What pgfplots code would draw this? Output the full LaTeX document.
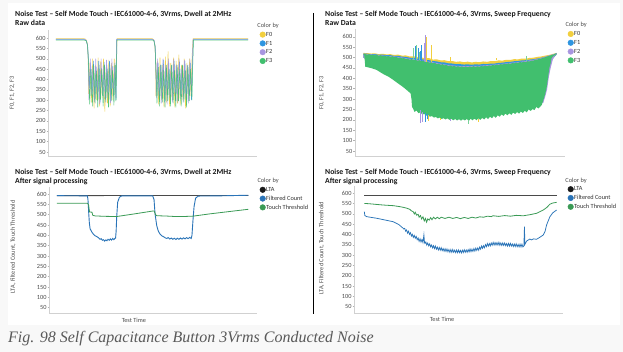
\documentclass[border=0pt]{standalone}
\usepackage{fontspec}
\setmainfont{Carlito}
\newfontfamily\capfont{Liberation Serif}
\usepackage{pgfplots}
\pgfplotsset{compat=1.18}
\definecolor{cF0}{HTML}{F2CF3E}
\definecolor{cF1}{HTML}{2E95E0}
\definecolor{cF2}{HTML}{A896E0}
\definecolor{cF3}{HTML}{41BF6E}
\definecolor{cLTA}{HTML}{4A4A4A}
\definecolor{cFC}{HTML}{2A74B8}
\definecolor{cTT}{HTML}{3A9A55}
\definecolor{bgout}{HTML}{F8F8F8}
\newcommand{\smallf}{\fontsize{6.3}{7}\selectfont}
\newcommand{\titlef}{\fontsize{7.75}{9}\selectfont\bfseries}
\pgfplotsset{
  panel/.style={
    scale only axis, anchor=south west,
    axis x line*=bottom, axis y line*=left,
    axis line style={draw=black!18, line width=0.4pt},
    ytick={50,100,...,600}, xtick=\empty,
    tick style={draw=black!30, line width=0.4pt},
    major tick length=1.8pt, tick align=outside,
    yticklabel style={font=\smallf, text=black!70, inner sep=0.8pt},
    /pgf/number format/assume math mode=true,
    ylabel style={font=\smallf, text=black!70},
    xlabel style={font=\smallf, text=black!70},
    legend style={draw=none, fill=none, font=\smallf, text=black!80, inner sep=0pt,
      row sep=1.9pt, nodes={inner sep=0.5pt, text height=4.6pt, text depth=1.3pt}},
    legend cell align=left,
    legend image code/.code={\fill[##1] (3pt,0pt) circle (2.8pt);},
  }
}
\begin{document}
\begin{tikzpicture}
\fill[bgout] (0pt,0pt) rectangle (623pt,-352pt);
\useasboundingbox (0pt,0pt) rectangle (623pt,-352pt);
\fill[white] (8pt,-2.7pt) rectangle (620pt,-325pt);

% ---------------- Top left: dwell raw ----------------
\begin{axis}[panel, at={(48.3pt,-156.7pt)}, width=208.4pt, height=126.7pt,
  xmin=-4.0, xmax=104.4, ymin=27.3, ymax=638.6,
  ylabel={F0, F1, F2, F3},
  ylabel style={at={(axis description cs:-0.173,0.503)}, anchor=center},
  legend style={at={(axis description cs:1.0134,1.062)}, anchor=north west}]
\addlegendimage{empty legend}\addlegendentry{\hspace*{-8.7pt}\textcolor{black!70}{Color by}}
\addlegendimage{color=cF0}\addlegendentry{F0}
\addlegendimage{color=cF1}\addlegendentry{F1}
\addlegendimage{color=cF2}\addlegendentry{F2}
\addlegendimage{color=cF3}\addlegendentry{F3}
\addplot[forget plot, color=cF0, line width=0.5pt, opacity=0.9] coordinates {
(0,597) (14.5,597) (15.5,594) (16.2,580) (16.7,520) (17.0,330) (17.7,480) (18.4,290) (19.1,500) (19.8,260) (20.5,470) (21.2,300) (21.9,505) (22.6,270) (23.3,490) (24.0,310) (24.7,500) (25.4,245) (26.1,460) (26.8,285) (27.5,495) (28.2,270) (28.9,480) (29.6,300) (30.3,500) (31.0,330) (31.4,520) (31.8,597) (50.0,597) (50.8,592) (51.4,570) (51.8,500) (52.0,320) (52.7,490) (53.4,280) (54.1,505) (54.8,300) (55.5,470) (56.2,265) (56.9,510) (57.6,290) (58.3,535) (59.0,270) (59.7,480) (60.4,300) (61.1,505) (61.8,265) (62.5,490) (63.2,285) (63.9,520) (64.6,275) (65.3,470) (66.0,300) (66.7,500) (67.4,260) (68.1,480) (68.8,305) (69.5,500) (70.2,320) (70.8,515) (71.3,597) (100,597)};
\addplot[forget plot, color=cF1, line width=0.5pt, opacity=0.9] coordinates {
(0,592) (14.8,592) (15.8,588) (16.5,560) (17.0,470) (17.35,360) (18.05,470) (18.75,320) (19.45,490) (20.15,300) (20.85,460) (21.55,330) (22.25,490) (22.95,290) (23.65,455) (24.35,320) (25.05,485) (25.75,305) (26.45,470) (27.15,330) (27.85,490) (28.55,295) (29.25,465) (29.95,320) (30.65,480) (31.2,300) (31.6,592) (50.3,592) (51.0,588) (51.6,555) (52.0,450) (52.35,340) (53.05,480) (53.75,300) (54.45,470) (55.15,320) (55.85,495) (56.55,290) (57.25,460) (57.95,330) (58.65,480) (59.35,300) (60.05,470) (60.75,320) (61.45,490) (62.15,295) (62.85,460) (63.55,330) (64.25,485) (64.95,305) (65.65,470) (66.35,320) (67.05,490) (67.75,300) (68.45,465) (69.15,330) (69.85,480) (70.5,300) (71.0,470) (71.4,592) (100,592)};
\addplot[forget plot, color=cF2, line width=0.5pt, opacity=0.9] coordinates {
(0,594) (14.6,594) (15.6,590) (16.3,570) (16.8,500) (17.17,300) (17.87,500) (18.57,330) (19.27,460) (19.97,290) (20.67,500) (21.37,315) (22.07,470) (22.77,280) (23.47,500) (24.17,330) (24.87,465) (25.57,290) (26.27,495) (26.97,310) (27.67,470) (28.37,285) (29.07,500) (29.77,330) (30.47,460) (31.1,310) (31.5,594) (50.1,594) (50.9,590) (51.5,565) (51.9,480) (52.17,310) (52.87,500) (53.57,320) (54.27,470) (54.97,285) (55.67,500) (56.37,320) (57.07,470) (57.77,280) (58.47,500) (59.17,325) (59.87,465) (60.57,290) (61.27,500) (61.97,310) (62.67,470) (63.37,285) (64.07,500) (64.77,330) (65.47,460) (66.17,290) (66.87,495) (67.57,310) (68.27,470) (68.97,285) (69.67,500) (70.4,330) (70.9,480) (71.3,594) (100,594)};
\addplot[forget plot, color=cF3, line width=0.5pt, opacity=0.9] coordinates {
(0,590) (14.7,590) (15.7,586) (16.4,565) (16.9,480) (17.52,280) (18.22,450) (18.92,270) (19.62,470) (20.32,285) (21.02,440) (21.72,265) (22.42,470) (23.12,300) (23.82,450) (24.52,270) (25.22,470) (25.92,290) (26.62,450) (27.32,265) (28.02,470) (28.72,295) (29.42,445) (30.12,275) (30.82,470) (31.2,295) (31.5,450) (31.7,590) (50.2,590) (50.9,587) (51.5,560) (51.9,470) (52.52,285) (53.22,460) (53.92,270) (54.62,470) (55.32,290) (56.02,445) (56.72,265) (57.42,470) (58.12,295) (58.82,450) (59.52,270) (60.22,470) (60.92,285) (61.62,445) (62.32,265) (63.02,470) (63.72,295) (64.42,450) (65.12,270) (65.82,470) (66.52,290) (67.22,445) (67.92,265) (68.62,470) (69.32,295) (70.02,450) (70.7,300) (71.1,460) (71.5,590) (100,590)};
\end{axis}

% ---------------- Top right: sweep raw ----------------
\begin{axis}[panel, at={(355pt,-156.7pt)}, width=210pt, height=127.4pt,
  xmin=-4.3, xmax=104.3, ymin=22.6, ymax=635.7,
  ylabel={F0, F1, F2, F3},
  ylabel style={at={(axis description cs:-0.159,0.503)}, anchor=center},
  legend style={at={(axis description cs:1.012,1.061)}, anchor=north west}]
\addlegendimage{empty legend}\addlegendentry{\hspace*{-8.7pt}\textcolor{black!70}{Color by}}
\addlegendimage{color=cF0}\addlegendentry{F0}
\addlegendimage{color=cF1}\addlegendentry{F1}
\addlegendimage{color=cF2}\addlegendentry{F2}
\addlegendimage{color=cF3}\addlegendentry{F3}
% F0 area
\addplot[forget plot, fill=cF0, draw=none] coordinates {
(0,522)(2,521)(4,519)(6,520)(8,516)(10,518)(12,515)(14,516)(16,512)(18,514)(20,509)(22,510)(24,505)(26,506)(28,501)(30,500)(32,496)(34,497)(36,490)(38,491)(40,486)(42,487)(44,482)(46,483)(48,479)(50,481)(52,477)(54,480)(56,476)(58,479)(60,477)(62,481)(64,479)(66,483)(68,482)(70,486)(72,485)(74,489)(76,488)(78,492)(80,491)(82,495)(84,494)(86,498)(88,499)(90,503)(92,505)(94,509)(96,512)(98,517)(100,522)
(100,515)(97,485)(95,400)(75,320)(50,300)(25,350)(10,440)(0,500)} --cycle;
% F1 area
\addplot[forget plot, fill=cF1, draw=none] coordinates {
(0,519)(2,518)(4,516)(6,516)(8,513)(10,514)(12,511)(14,511)(16,508)(18,508)(20,504)(22,503)(24,499)(26,498)(28,494)(30,492)(32,489)(34,487)(36,483)(38,481)(40,477)(42,476)(44,472)(46,471)(48,468)(50,468)(52,466)(54,467)(56,465)(58,467)(60,466)(62,469)(64,468)(66,471)(68,471)(70,474)(72,475)(74,478)(76,479)(78,482)(80,483)(82,486)(84,487)(86,490)(88,492)(90,495)(92,499)(94,503)(96,508)(98,514)(100,521)
(100,515)(97,485)(95,400)(75,320)(50,300)(25,350)(10,440)(0,500)} --cycle;
% F2 area
\addplot[forget plot, fill=cF2, draw=none] coordinates {
(0,518)(4,515)(8,511)(12,508)(16,505)(20,500)(24,494)(28,489)(32,483)(36,477)(40,470)(44,464)(48,460)(52,458)(56,459)(60,460)(64,463)(68,466)(72,470)(76,474)(80,478)(84,483)(88,489)(92,498)(96,510)(100,520)
(100,518)(99,508)(98,490)(97,455)(96,410)(95,345)(94,310)(93,280)(75,320)(50,300)(25,350)(10,440)(0,500)} --cycle;
% F3 area
\addplot[forget plot, fill=cF3, draw=none] coordinates {
(0,516)(0.5,518)(2,513)(3,516)(4,512)(5,514)(6,510)(7,513)(8,508)(9,511)(10,506)(11,509)(12,505)(13,507)(14,503)(15,506)(16,501)(17,503)(18,498)(19,500)(20,496)(21,497)(22,493)(23,494)(24,489)(25,492)(26,487)(27,489)(28,484)(29,487)(30,482)(31,484)(32,478)(33,481)(34,475)(35,477)(36,472)(37,474)(38,468)(39,470)(40,465)(41,468)(42,462)(43,464)(44,459)(45,462)(46,457)(47,460)(48,455)(49,458)(50,454)(51,457)(52,453)(53,457)(54,453)(55,457)(56,454)(57,458)(58,454)(59,458)(60,455)(61,459)(62,457)(63,461)(64,458)(65,462)(66,460)(67,464)(68,462)(69,466)(70,464)(71,468)(72,466)(73,470)(74,468)(75,472)(76,469)(77,473)(78,472)(79,476)(80,474)(81,478)(82,476)(83,480)(84,478)(85,482)(86,481)(87,485)(88,485)(89,489)(90,490)(91,494)(92,495)(93,499)(94,501)(95,505)(96,507)(97,511)(98,513)(99,517)(100,520)
(100,519)(99,511)(98,504)(97.4,498)(96.8,470)(96.2,450)(95.5,400)(94.8,355)(94,322)(93.1,295)(92.3,272)(91.4,262)(90.5,255)(89.5,262)(88.5,247)(87.5,252)(86.5,243)(85.5,250)(84.5,236)(83.5,244)(82.5,233)(81.5,240)(80.5,230)(79.5,238)(78.5,228)(77.5,235)(76.5,224)(75.5,232)(74.5,222)(73.5,230)(72.5,219)(71.5,226)(70.5,215)(69.5,222)(68.5,210)(67.5,218)(66.5,208)(65.5,215)(64.5,204)(63.5,212)(62.5,202)(61.5,209)(60.5,200)(59.5,207)(58.5,198)(57.5,206)(56.5,198)(55.5,205)(54.5,195)(53.5,204)(52.5,197)(51.5,203)(50.5,196)(49.5,203)(48.5,197)(47.5,204)(46.5,198)(45.5,205)(44.5,200)(43.5,207)(42.5,202)(41.5,208)(40.5,204)(39.5,211)(38.5,207)(37.5,214)(36.5,211)(35.5,218)(34.5,215)(33.5,222)(32.5,220)(31.5,229)(30.5,225)(29.5,236)(28.5,232)(27.5,245)(26.5,238)(25.7,255)(25.2,262)(24.9,300)(24.5,326)(24,331)(22.5,343)(20.7,357)(18,375)(15.5,392)(13,408)(10,422)(6.9,440)(4,449)(1,456)(0.8,480)(0.5,510)} --cycle;
% spikes
\addplot[forget plot, color=cF1, line width=0.5pt, unbounded coords=jump] coordinates {
(26.7,490)(26.7,555)(26.8,nan)(28.4,488)(28.4,545)(28.5,nan)(30.2,485)(30.2,560)(30.3,nan)(31.9,482)(31.9,540)(32,nan)(29.3,486)(29.3,530)(29.4,nan)
(31.9,232)(31.9,190)(32,nan)(33,228)(33,205)};
\addplot[forget plot, color=cF3!70, line width=0.5pt, unbounded coords=jump] coordinates {
(25.9,490)(25.9,545)(26,nan)(27.6,488)(27.6,560)(27.7,nan)(29,486)(29,525)(29.1,nan)(54.3,200)(54.3,182)(54.4,nan)(84.5,482)(84.5,506)};
\addplot[forget plot, color=cF2, line width=0.5pt, unbounded coords=jump] coordinates {
(32.2,480)(32.2,610)(32.3,nan)(31.5,482)(31.5,570)(31.6,nan)(29.5,245)(29.5,185)(29.6,nan)(30.5,240)(30.5,190)(30.6,nan)(44.8,206)(44.8,195)};
\addplot[forget plot, color=cF0, line width=0.5pt, unbounded coords=jump] coordinates {
(35.3,476)(35.3,560)(35.4,nan)(32.6,480)(32.6,600)(32.7,nan)(44.8,482)(44.8,500)(44.9,nan)(69,486)(69,498)(69.1,nan)(33.6,225)(33.6,195)(33.7,nan)(59.5,205)(59.5,190)(59.6,nan)(40,210)(40,198)};
\end{axis}

% ---------------- Bottom left: dwell processed ----------------
\begin{axis}[panel, at={(49.3pt,-313.3pt)}, width=207.4pt, height=126.6pt,
  xmin=-3.9, xmax=104.4, ymin=22.9, ymax=635.3,
  ylabel={LTA, Filtered Count, Touch Threshold},
  ylabel style={at={(axis description cs:-0.174,0.524)}, anchor=center},
  xlabel={Test Time},
  xlabel style={at={(axis description cs:0.408,-0.053)}, anchor=center},
  legend style={at={(axis description cs:1.0135,1.074)}, anchor=north west}]
\addlegendimage{empty legend}\addlegendentry{\hspace*{-8.7pt}\textcolor{black!70}{Color by}}
\addlegendimage{color=black!90}\addlegendentry{LTA}
\addlegendimage{color=cFC}\addlegendentry{Filtered Count}
\addlegendimage{color=cTT}\addlegendentry{Touch Threshold}
\addplot[forget plot, color=cLTA, line width=0.8pt] coordinates {(0,592)(100,593)};
\addplot[forget plot, color=cFC, line width=0.9pt] coordinates {
(0,592)(16,591)(16.3,572)(16.7,505)(17,462)(17.4,432)(18.3,416)(19.1,406)(20,398)(20.9,394)(21.7,389)(22.6,381)(23.2,384)(23.8,376)(24.4,379)(25,372)(25.6,378)(26.2,374)(26.8,381)(27.4,376)(28,383)(28.6,377)(29.2,385)(29.8,379)(30.4,386)(30.7,386)(31,420)(31.3,490)(31.8,560)(32.7,584)(33.9,591)(50.1,591)(50.8,572)(51.3,505)(52.2,447)(53,421)(53.9,406)(54.8,398)(55.7,394)(56.6,388)(57.4,385)(58.2,389)(59,382)(59.8,387)(60.6,381)(61.4,386)(62.2,380)(63,386)(63.8,381)(64.6,387)(65.4,382)(66.2,388)(67,383)(67.8,389)(68.6,384)(69.4,390)(70.2,385)(70.6,400)(71.1,470)(71.7,540)(72.5,580)(73.9,590)(85,591)(100,594)};
\addplot[forget plot, color=cTT, line width=0.8pt] coordinates {
(0,555)(16,555)(16.6,548)(17.1,513)(18.4,512)(18.8,497)(20,494)(25,492)(31.3,491)(32,492)(40,503)(50.4,518)(50.9,517)(51.6,500)(52.2,495)(58,493)(62,491)(66,491)(71.3,493)(80,504)(90,515)(100,526)};
\end{axis}

% ---------------- Bottom right: sweep processed ----------------
\begin{axis}[panel, at={(354.3pt,-313pt)}, width=209pt, height=127pt,
  xmin=-5.2, xmax=103.5, ymin=19.4, ymax=635.4,
  ylabel={LTA, Filtered Count, Touch Threshold},
  ylabel style={at={(axis description cs:-0.156,0.51)}, anchor=center},
  xlabel={Test Time},
  xlabel style={at={(axis description cs:0.42,-0.05)}, anchor=center},
  legend style={at={(axis description cs:1.02,1.073)}, anchor=north west}]
\addlegendimage{empty legend}\addlegendentry{\hspace*{-8.7pt}\textcolor{black!70}{Color by}}
\addlegendimage{color=black!90}\addlegendentry{LTA}
\addlegendimage{color=cFC}\addlegendentry{Filtered Count}
\addlegendimage{color=cTT}\addlegendentry{Touch Threshold}
\addplot[forget plot, color=cLTA, line width=0.8pt] coordinates {(0,592)(100,592)};
\addplot[forget plot, color=cTT, line width=0.8pt] coordinates {
(0,551)(3,549)(6.4,546)(10,543)(15.1,540)(18,536)(20.3,532)(22,528)(23.7,522)(24.5,515)(25.5,510)(26,500)(26.5,508)(27.2,494)(28,498)(28.5,484)(29.2,492)(29.8,476)(30.5,486)(31.2,466)(31.8,478)(32.4,460)(33,476)(33.8,470)(34.5,482)(35.2,472)(36,484)(37,476)(38,484)(39,477)(40,484)(42,478)(44,484)(46,478)(48,483)(50,477)(52,483)(54,478)(56,484)(58,480)(60,486)(62,484)(64,489)(66,487)(67,491)(70,488)(73,492)(76,489)(79,493)(82.7,491)(86,496)(89.6,503)(93.1,519)(95,532)(96.5,547)(98,553)(100,556)};
\addplot[forget plot, color=cFC, line width=0.75pt] coordinates {
(0,511)(0.3,492)(1.2,487)(3,484)(6.4,479)(10,472)(15.1,462)(18,448)(20,432)
(20.5,427)(21,430)(21.5,416)(22,422)(22.5,407)(23,416)(23.5,401)(24,409)(24.5,393)(25,401)(25.5,386)(26,396)(26.5,382)(27,391)(27.5,375)(28,383)(28.5,367)(29,379)(29.5,364)(30,376)(30.5,361)(31,398)(31.3,362)(31.5,357)(32,364)(32.5,349)(33,359)(33.5,345)(34,355)(34.5,340)(35,349)(35.5,335)(36,346)(36.5,332)(37,344)(37.5,329)(38,339)(38.5,325)(39,337)(39.5,324)(40,336)(40.5,322)(41,332)(41.5,319)(42,331)(42.5,318)(43,330)(43.5,316)(44,327)(44.5,314)(45,327)(45.5,314)(46,327)(46.5,314)(47,324)(47.5,312)(48,325)(48.5,312)(49,325)(49.5,312)(50,323)(50.5,311)(51,324)(51.5,313)(52,326)(52.5,314)(53,325)(53.5,314)(54,327)(54.5,316)(55,330)(55.5,317)(56,329)(56.5,318)(57,332)(57.5,320)(58,334)(58.5,323)(59,335)(59.5,324)(60,339)(60.5,329)(61,344)(61.5,333)(62,346)(62.5,336)(63,351)(63.5,341)(64,356)(64.5,344)(65,356)(65.5,345)(66,359)(66.5,348)(67,362)(67.5,349)(68,361)(68.5,349)(69,361)(69.5,349)(70,362)(70.5,348)(71,359)(71.5,347)(72,359)(72.5,347)(73,359)(73.5,346)(74,356)(74.5,344)(75,357)(75.5,344)(76,357)(76.5,344)(77,354)(77.5,342)(78,354)(78.5,342)(79,355)(79.5,341)(80,352)(80.5,340)(81,353)(81.5,340)(82,353)(82.5,340)(83,345)(83.3,438)(83.5,352)
(84.4,368)(85,372)(86.1,378)(87,374)(88,379)(89.6,377)(91,385)(93.1,398)(94,415)(94.8,446)(96.5,486)(98,505)(100,519)};
\end{axis}

% ---------------- titles, divider, caption ----------------
\draw[black, line width=0.8pt] (313.3pt,-13pt) -- (313.3pt,-314pt);
\node[anchor=base west, inner sep=0pt, text=black!90, font=\titlef] at (15pt,-16.8pt) {Noise Test – Self Mode Touch - IEC61000-4-6, 3Vrms, Dwell at 2MHz};
\node[anchor=base west, inner sep=0pt, text=black!90, font=\titlef] at (15pt,-25.5pt) {Raw data};
\node[anchor=base west, inner sep=0pt, text=black!90, font=\titlef] at (325pt,-16.8pt) {Noise Test – Self Mode Touch - IEC61000-4-6, 3Vrms, Sweep Frequency};
\node[anchor=base west, inner sep=0pt, text=black!90, font=\titlef] at (325pt,-25.5pt) {Raw Data};
\node[anchor=base west, inner sep=0pt, text=black!90, font=\titlef] at (15pt,-175pt) {Noise Test – Self Mode Touch - IEC61000-4-6, 3Vrms, Dwell at 2MHz};
\node[anchor=base west, inner sep=0pt, text=black!90, font=\titlef] at (15pt,-183.3pt) {After signal processing};
\node[anchor=base west, inner sep=0pt, text=black!90, font=\titlef] at (325pt,-175pt) {Noise Test – Self Mode Touch - IEC61000-4-6, 3Vrms, Sweep Frequency};
\node[anchor=base west, inner sep=0pt, text=black!90, font=\titlef] at (325pt,-183.3pt) {After signal processing};
\node[anchor=base west, inner sep=0pt, text=black!65, font={\capfont\itshape\fontsize{16}{18}\selectfont}] at (8pt,-342pt) {Fig. 98 Self Capacitance Button 3Vrms Conducted Noise};
\end{tikzpicture}
\end{document}
